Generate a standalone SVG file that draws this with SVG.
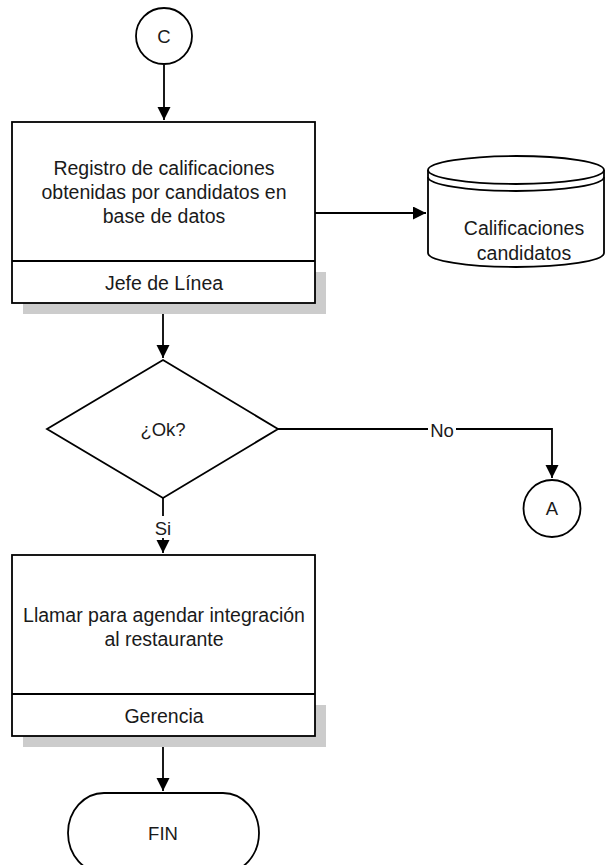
<svg xmlns="http://www.w3.org/2000/svg" width="607" height="865" viewBox="0 0 607 865">
<style>
.s{fill:#fff;stroke:#000;stroke-width:1.8}
.sh{fill:#cccccc;stroke:none}
.t{font-family:"Liberation Sans",Arial,sans-serif;font-size:19.5px;fill:#1a1a1a;text-anchor:middle}
.l{font-family:"Liberation Sans",Arial,sans-serif;font-size:18.5px;fill:#1a1a1a;text-anchor:middle}
.c{fill:none;stroke:#000;stroke-width:1.8}
</style>
<defs>
<marker id="ah" markerUnits="userSpaceOnUse" markerWidth="14" markerHeight="14" refX="13" refY="6.5" orient="auto">
<path d="M0,0 L13,6.5 L0,13 z" fill="#000"/>
</marker>
</defs>
<g id="connectors">
<path class="c" d="M164,65 V120" marker-end="url(#ah)"/>
<path class="c" d="M315,213 H426" marker-end="url(#ah)"/>
<path class="c" d="M163,303 V358" marker-end="url(#ah)"/>
<path class="c" d="M278,429 H552 V478" marker-end="url(#ah)"/>
<path class="c" d="M163,498 V553" marker-end="url(#ah)"/>
<path class="c" d="M163,736 V791" marker-end="url(#ah)"/>
<rect x="428" y="420" width="28" height="20" fill="#fff"/>
<text class="l" x="442" y="437">No</text>
<rect x="153" y="516" width="20" height="22" fill="#fff"/>
<text class="l" x="163" y="535">Si</text>
</g>
<g id="nodeC">
<circle class="s" cx="164" cy="36" r="28"/>
<text class="l" x="164" y="43">C</text>
</g>
<g id="registro">
<rect class="sh" x="23" y="272" width="303" height="42"/>
<rect class="s" x="12" y="122" width="303" height="181"/>
<line class="c" x1="12" y1="261" x2="315" y2="261"/>
<text class="t" x="164" y="175">Registro de calificaciones</text>
<text class="t" x="164" y="199">obtenidas por candidatos en</text>
<text class="t" x="164" y="223">base de datos</text>
<text class="t" x="164" y="290">Jefe de Línea</text>
</g>
<g id="db">
<path class="s" d="M428,170 V253 A88,14 0 0 0 604,253 V170 A88,14 0 0 0 428,170 Z"/>
<path class="c" d="M428,170 A88,14 0 0 0 604,170"/>
<path class="c" d="M428,177 A88,14 0 0 0 604,177"/>
<text class="t" x="524" y="235">Calificaciones</text>
<text class="t" x="524" y="260">candidatos</text>
</g>
<g id="decision">
<polygon class="s" points="163,360 278,429 163,498 47,429"/>
<text class="l" x="163" y="436">¿Ok?</text>
</g>
<g id="nodeA">
<circle class="s" cx="552" cy="508.5" r="28.5"/>
<text class="l" x="552" y="515">A</text>
</g>
<g id="llamar">
<rect class="sh" x="23" y="705" width="303" height="42"/>
<rect class="s" x="12" y="555" width="303" height="181"/>
<line class="c" x1="12" y1="694" x2="315" y2="694"/>
<text class="t" x="164" y="622">Llamar para agendar integración</text>
<text class="t" x="164" y="646">al restaurante</text>
<text class="t" x="164" y="723">Gerencia</text>
</g>
<g id="fin">
<rect class="s" x="68" y="793" width="191" height="80" rx="36" ry="40"/>
<text class="l" x="163" y="840">FIN</text>
</g>
</svg>
